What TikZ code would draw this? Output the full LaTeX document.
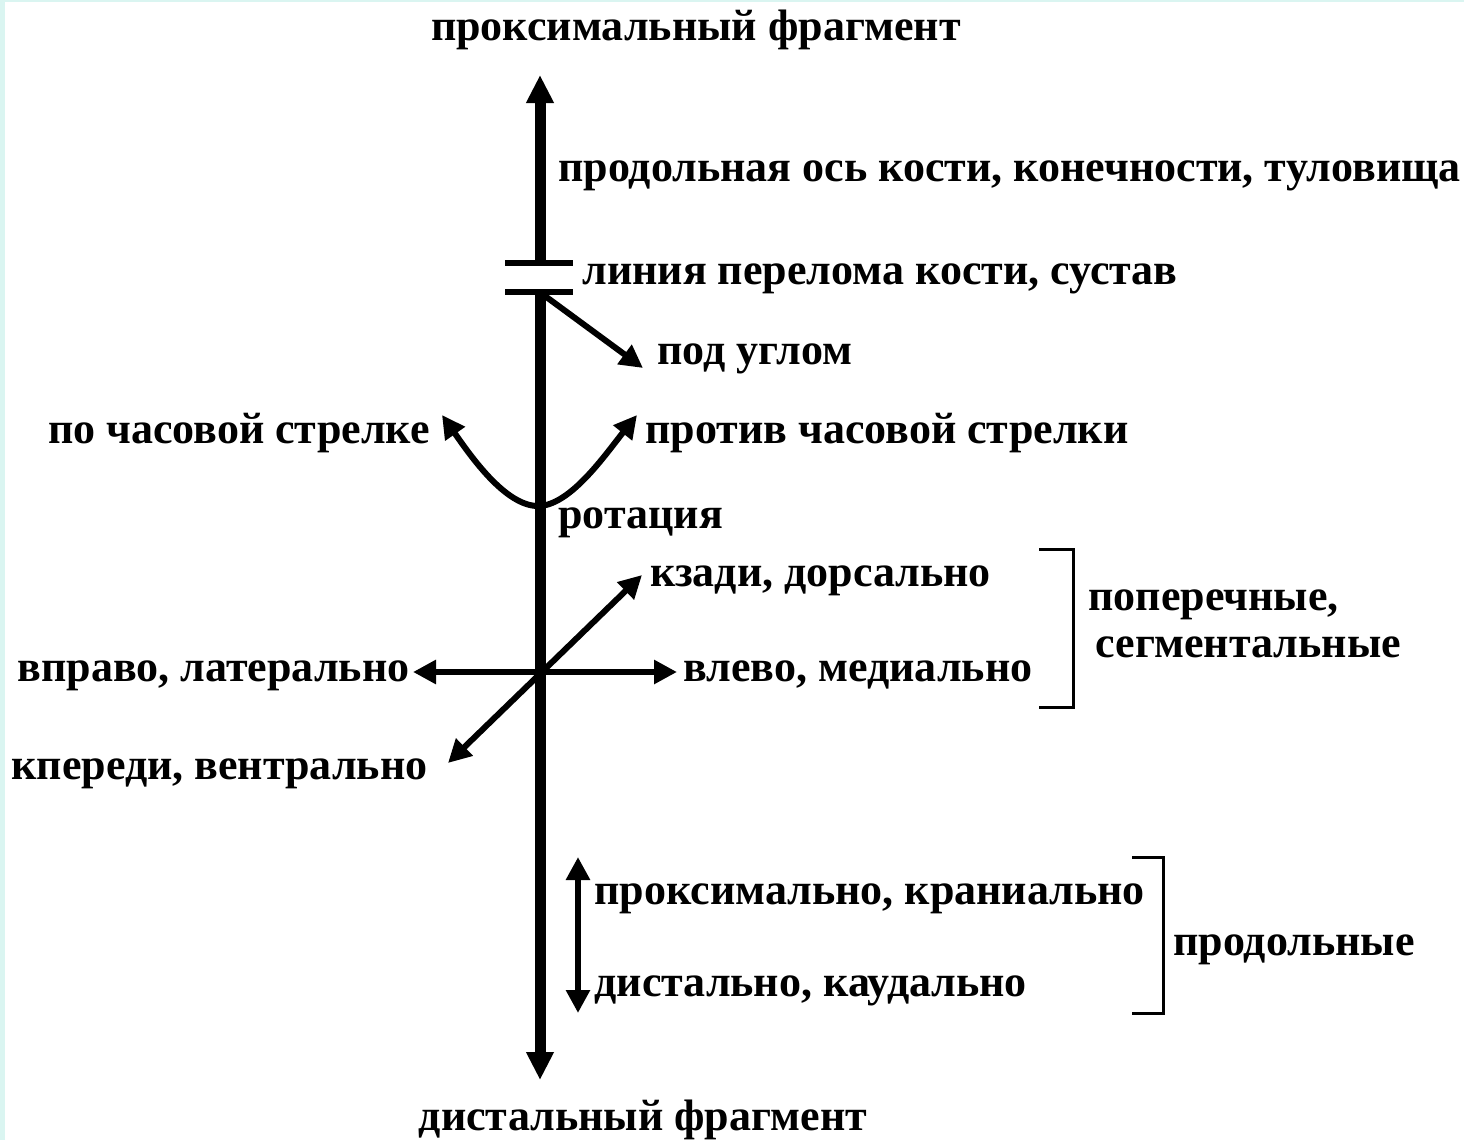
\documentclass[tikz,border=0pt]{standalone}
\usepackage{fontspec}
\setmainfont{Liberation Serif}
\usetikzlibrary{arrows.meta}
\definecolor{rand}{HTML}{DAF5F1}
\begin{document}
\begin{tikzpicture}[x=0.5pt, y=-0.5pt,
		font=\fontsize{22}{26}\selectfont\bfseries,
		lbl/.style={inner sep=0pt},
		achse/.style={line width=5.5pt, -{Triangle[length=14pt,width=13pt]}},
		pfeil/.style={line width=3pt, -{Triangle[length=11.5pt,width=11.5pt]}},
		doppel/.style={pfeil, {Triangle[length=11.5pt,width=11.5pt]}-{Triangle[length=11.5pt,width=11.5pt]}},
		klammer/.style={line width=1.5pt}]
	% Hintergrund
	\useasboundingbox (0,0) rectangle (1464,1140);
	\fill[white] (0,0) rectangle (1464,1140);
	\fill[rand] (0,0) rectangle (5,1140);
	\fill[rand] (0,0) rectangle (1464,2);
	
	% Beschriftungen
	\node[lbl, anchor=base] (lproxfr) at (696,40) {проксимальный фрагмент};
	\node[lbl, anchor=base west] (laxis) at (558,181) {продольная ось кости, конечности, туловища};
	\node[lbl, anchor=base west] (lfract) at (582,284) {линия перелома кости, сустав};
	\node[lbl, anchor=base west] (langle) at (657,364) {под углом};
	\node[lbl, anchor=base east] (lcw) at (430,443) {по часовой стрелке};
	\node[lbl, anchor=base west] (lccw) at (645,443) {против часовой стрелки};
	\node[lbl, anchor=base west] (lrot) at (558,528) {ротация};
	\node[lbl, anchor=base west] (ldors) at (650,586) {кзади, дорсально};
	\node[lbl, anchor=base west] (lmed) at (683,681) {влево, медиально};
	\node[lbl, anchor=base east] (llat) at (410,681) {вправо, латерально};
	\node[lbl, anchor=base east] (lvent) at (428,779) {кпереди, вентрально};
	\node[lbl, anchor=base west] (ltrans) at (1088,610) {поперечные,};
	\node[lbl, anchor=base west] (lseg) at (1095,657) {сегментальные};
	\node[lbl, anchor=base west] (lprox) at (594,904) {проксимально, краниально};
	\node[lbl, anchor=base west] (ldist) at (594,996) {дистально, каудально};
	\node[lbl, anchor=base west] (llong) at (1173,955) {продольные};
	\node[lbl, anchor=base] (ldistfr) at (643,1130) {дистальный фрагмент};
	
	% Achse mit Bruchlinie
	\coordinate (axtop) at (540,75);
	\coordinate (axbot) at (540,1080);
	\coordinate (bruchO) at (540,263);
	\coordinate (bruchU) at (540,292);
	\draw[achse] (bruchO) -- (axtop);
	\draw[achse] (bruchU) -- (axbot);
	\draw[line width=3pt] (505,263) -- (573,263);
	\draw[line width=3pt] (505,292) -- (573,292);
	
	% Winkel
	\coordinate (winkA) at (545,296);
	\coordinate (winkB) at (643,368);
	\draw[pfeil] (winkA) -- (winkB);
	
	% Rotation
	\coordinate (rotc) at (538,506);
	\coordinate (rotl) at (442,415);
	\coordinate (rotr) at (637,415);
	\draw[pfeil] (rotc) .. controls (505,506) and (470,455) .. (rotl);
	\draw[pfeil] (rotc) .. controls (570,506) and (605,455) .. (rotr);
	
	% Querrichtungen
	\coordinate (kreuz) at (540,672);
	\coordinate (links) at (413,672);
	\coordinate (rechts) at (677,672);
	\coordinate (hinten) at (642,575);
	\coordinate (vorn) at (448,763);
	\draw[pfeil] (kreuz) -- (links);
	\draw[pfeil] (kreuz) -- (rechts);
	\draw[doppel] (vorn) -- (hinten);
	
	% Laengsrichtungen
	\coordinate (proxp) at (578,857);
	\coordinate (distp) at (578,1013);
	\draw[doppel] (distp) -- (proxp);
	
	% Klammern
	\draw[klammer] (1039,549) -- (1073,549) -- (1073,707) -- (1039,707);
	\draw[klammer] (1132,857) -- (1163,857) -- (1163,1013) -- (1132,1013);
\end{tikzpicture}
\end{document}
